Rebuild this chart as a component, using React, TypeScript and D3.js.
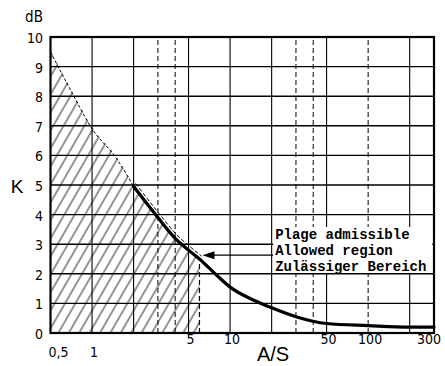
import React, { useRef, useEffect } from 'react';
import * as d3 from 'd3';

// A/S ratio vs correction K (dB)
const ratios = [0.5, 0.7, 1, 1.5, 2, 3, 4, 5, 6, 8, 10, 15, 20, 30, 50, 100, 200, 300];
const kValues = [9.5, 8.2, 6.9, 5.9, 4.95, 3.9, 3.2, 2.8, 2.5, 1.95, 1.55, 1.1, 0.85, 0.55, 0.32, 0.25, 0.2, 0.2];

const kTicks = [0, 1, 2, 3, 4, 5, 6, 7, 8, 9, 10];
const kTickLabels = ['0', '1', '2', '3', '4', '5', '6', '7', '8', '9', '10'];
const xTicks = [0.5, 1, 5, 10, 50, 100, 300];
const xTickLabels = ['0,5', '1', '5', '10', '50', '100', '300'];

const solidGrid = [1, 2, 5, 10, 20, 50, 200];
const dashedGrid = [3, 4, 30, 40, 100];

const solidFrom = 2;
const hatchLimit = 6;
const arrowK = 2.63;
const noteLines = ['Plage admissible', 'Allowed region', 'Zulässiger Bereich'];

const W = 445;
const H = 366;

const Chart = () => {
  const svgRef = useRef<SVGSVGElement>(null);

  useEffect(() => {
    const svg = d3.select(svgRef.current);
    svg.selectAll('*').remove();

    const x = d3.scaleLog().domain([0.5, 300]).range([50.5, 434]);
    const y = d3.scaleLinear().domain([0, 10]).range([333, 37]);

    const pts = ratios.map((r, i) => ({ r, k: kValues[i] }));

    svg.append('rect').attr('width', W).attr('height', H).attr('fill', '#fff');

    const defs = svg.append('defs');
    const pat = defs.append('pattern')
      .attr('id', 'hatch')
      .attr('patternUnits', 'userSpaceOnUse')
      .attr('width', 9)
      .attr('height', 9)
      .attr('patternTransform', 'rotate(30)');
    pat.append('line')
      .attr('x1', 1).attr('y1', 0).attr('x2', 1).attr('y2', 9)
      .attr('stroke', '#111').attr('stroke-width', 0.9);

    // hatched allowed region
    const area = d3.area<{ r: number; k: number }>()
      .x(d => x(d.r))
      .y0(y(0))
      .y1(d => y(d.k) - 2)
      .curve(d3.curveMonotoneX);
    svg.append('path')
      .datum(pts.filter(d => d.r <= hatchLimit))
      .attr('d', area)
      .attr('fill', 'url(#hatch)');

    // grid
    const g = svg.append('g').attr('stroke', '#000');
    g.selectAll('.hg')
      .data(kTicks.slice(1, -1))
      .enter()
      .append('line')
      .attr('x1', x(0.5)).attr('x2', x(300))
      .attr('y1', d => y(d)).attr('y2', d => y(d))
      .attr('stroke-width', 1.4);
    g.selectAll('.vs')
      .data(solidGrid)
      .enter()
      .append('line')
      .attr('x1', d => x(d)).attr('x2', d => x(d))
      .attr('y1', y(0)).attr('y2', y(10))
      .attr('stroke-width', 1.1);
    g.selectAll('.vd')
      .data(dashedGrid)
      .enter()
      .append('line')
      .attr('x1', d => x(d)).attr('x2', d => x(d))
      .attr('y1', y(0)).attr('y2', y(10))
      .attr('stroke-width', 1)
      .attr('stroke-dasharray', '5 3');

    // edge of the hatched region
    const hatchEnd = pts.find(d => d.r === hatchLimit)!;
    svg.append('line')
      .attr('x1', x(hatchLimit)).attr('x2', x(hatchLimit))
      .attr('y1', y(0)).attr('y2', y(hatchEnd.k) - 2)
      .attr('stroke', '#000').attr('stroke-width', 1.2)
      .attr('stroke-dasharray', '5 3');

    const line = d3.line<{ r: number; k: number }>()
      .x(d => x(d.r))
      .y(d => y(d.k))
      .curve(d3.curveMonotoneX);

    svg.append('path')
      .datum(pts.filter(d => d.r >= solidFrom && d.r <= hatchLimit))
      .attr('d', line)
      .attr('transform', 'translate(2,-3)')
      .attr('fill', 'none')
      .attr('stroke', '#000')
      .attr('stroke-width', 1)
      .attr('stroke-dasharray', '4 2');

    svg.append('path')
      .datum(pts.filter(d => d.r <= solidFrom))
      .attr('d', line)
      .attr('fill', 'none')
      .attr('stroke', '#000')
      .attr('stroke-width', 1)
      .attr('stroke-dasharray', '3 2');

    svg.append('path')
      .datum(pts.filter(d => d.r >= solidFrom))
      .attr('d', line)
      .attr('fill', 'none')
      .attr('stroke', '#000')
      .attr('stroke-width', 3.2)
      .attr('stroke-linecap', 'round');

    // frame
    svg.append('rect')
      .attr('x', x(0.5)).attr('y', y(10))
      .attr('width', x(300) - x(0.5)).attr('height', y(0) - y(10))
      .attr('fill', 'none').attr('stroke', '#000').attr('stroke-width', 2.2);

    // note with arrow
    const noteX = x(20) + 1.5;
    svg.append('rect')
      .attr('x', noteX).attr('y', 227)
      .attr('width', 159).attr('height', 46)
      .attr('fill', '#fff');
    svg.append('g')
      .selectAll('text')
      .data(noteLines)
      .enter()
      .append('text')
      .attr('x', noteX + 2)
      .attr('y', (d, i) => 239 + i * 16)
      .attr('font-family', "'Liberation Mono', 'DejaVu Sans Mono', monospace")
      .attr('font-size', 14)
      .attr('font-weight', 'bold')
      .attr('fill', '#000')
      .text(d => d);

    const tipX = x(hatchLimit) + 3;
    svg.append('line')
      .attr('x1', noteX).attr('x2', tipX + 10)
      .attr('y1', y(arrowK)).attr('y2', y(arrowK))
      .attr('stroke', '#000').attr('stroke-width', 1.3);
    svg.append('path')
      .attr('d', `M${tipX},${y(arrowK)} L${tipX + 12},${y(arrowK) - 4} L${tipX + 12},${y(arrowK) + 4} Z`)
      .attr('fill', '#000');

    // tick labels
    const tickFont = "'Liberation Sans Narrow', 'DejaVu Sans Condensed', 'Liberation Sans', sans-serif";
    svg.append('g')
      .selectAll('text')
      .data(kTicks)
      .enter()
      .append('text')
      .attr('x', 43)
      .attr('y', d => y(d) + 6)
      .attr('text-anchor', 'end')
      .attr('font-family', tickFont)
      .attr('font-size', 14)
      .text((d, i) => kTickLabels[i]);

    svg.append('g')
      .selectAll('text')
      .data(xTicks)
      .enter()
      .append('text')
      .attr('x', (d, i) => x(d) + (i === 0 ? 8 : i === xTicks.length - 1 ? -5 : 2))
      .attr('y', d => (d <= 1 ? 357 : 344))
      .attr('text-anchor', 'middle')
      .attr('font-family', tickFont)
      .attr('font-size', 14)
      .text((d, i) => xTickLabels[i]);

    // axis titles
    svg.append('text')
      .attr('x', 34).attr('y', 22)
      .attr('text-anchor', 'middle')
      .attr('font-family', tickFont)
      .attr('font-size', 15)
      .text('dB');
    svg.append('text')
      .attr('x', 17).attr('y', 193)
      .attr('text-anchor', 'middle')
      .attr('font-family', "'Liberation Sans', sans-serif")
      .attr('font-size', 19)
      .text('K');
    svg.append('text')
      .attr('x', 273).attr('y', 361)
      .attr('text-anchor', 'middle')
      .attr('font-family', "'Liberation Sans', sans-serif")
      .attr('font-size', 20)
      .text('A/S');
  }, []);

  return <svg ref={svgRef} width={W} height={H} style={{ position: 'absolute', left: 0, top: 0 }}></svg>;
};

export default function App() {
  return <Chart />;
}
